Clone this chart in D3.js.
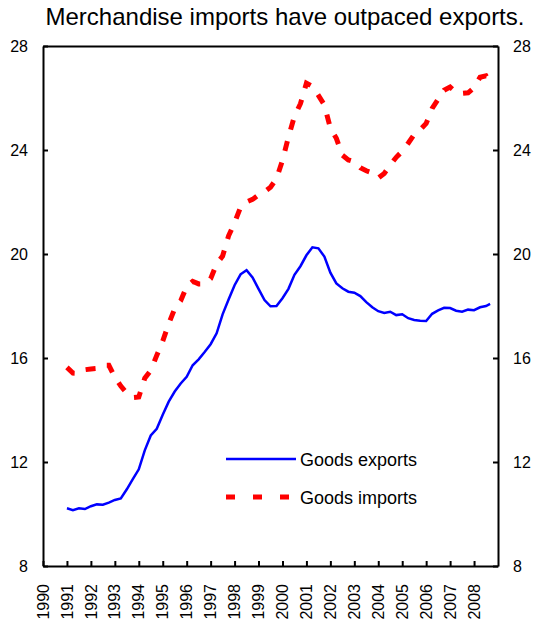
<!DOCTYPE html>
<html><head><meta charset="utf-8">
<script src="https://cdn.jsdelivr.net/npm/d3@7"></script>
<style>body{margin:0;background:#fff}svg{display:block}text{font-family:"Liberation Sans",Arial,sans-serif;fill:#000}</style>
</head><body><svg id="c" width="536" height="626"></svg>
<script>
const quarters = [
 1991.00,1991.25,1991.50,1991.75,1992.00,1992.25,1992.50,1992.75,
 1993.00,1993.25,1993.50,1993.75,1994.00,1994.25,1994.50,1994.75,
 1995.00,1995.25,1995.50,1995.75,1996.00,1996.25,1996.50,1996.75,
 1997.00,1997.25,1997.50,1997.75,1998.00,1998.25,1998.50,1998.75,
 1999.00,1999.25,1999.50,1999.75,2000.00,2000.25,2000.50,2000.75,
 2001.00,2001.25,2001.50,2001.75,2002.00,2002.25,2002.50,2002.75,
 2003.00,2003.25,2003.50,2003.75,2004.00,2004.25,2004.50,2004.75,
 2005.00,2005.25,2005.50,2005.75,2006.00,2006.25,2006.50,2006.75,
 2007.00,2007.25,2007.50,2007.75,2008.00,2008.25,2008.50,2008.67];
const goodsExports = [
 10.22,10.15,10.22,10.19,10.30,10.37,10.36,10.44,
 10.54,10.60,10.95,11.34,11.72,12.45,13.02,13.28,
 13.82,14.32,14.71,15.02,15.28,15.72,15.95,16.23,
 16.53,16.95,17.68,18.25,18.80,19.22,19.38,19.10,
 18.66,18.23,17.99,18.00,18.30,18.66,19.20,19.53,
 19.95,20.26,20.22,19.90,19.28,18.87,18.68,18.55,
 18.51,18.38,18.15,17.95,17.80,17.73,17.78,17.65,
 17.68,17.53,17.46,17.43,17.42,17.70,17.83,17.93,
 17.92,17.82,17.78,17.86,17.84,17.95,18.00,18.08];
const goodsImports = [
 15.64,15.42,15.41,15.55,15.58,15.60,15.72,15.72,
 15.26,14.92,14.65,14.48,14.50,15.22,15.52,16.10,
 16.65,17.32,17.90,18.20,18.75,18.95,18.85,18.85,
 19.05,19.62,19.92,20.70,21.20,21.80,22.00,22.10,
 22.27,22.40,22.57,22.90,23.60,24.50,25.30,25.78,
 26.57,26.45,26.10,25.73,24.84,24.45,23.80,23.62,
 23.55,23.32,23.20,23.12,22.92,23.10,23.42,23.72,
 23.95,24.26,24.60,24.78,25.02,25.60,25.95,26.30,
 26.42,26.22,26.18,26.20,26.40,26.80,26.85,26.63];
const yearTicks = [1990,1991,1992,1993,1994,1995,1996,1997,1998,1999,2000,2001,2002,2003,2004,2005,2006,2007,2008];
const valueTicks = [8,12,16,20,24,28];
const seriesNames = ["Goods exports","Goods imports"];
const titleText = "Merchandise imports have outpaced exports.";

const svg = d3.select("#c");
const L=43, R=498, T=46, B=566;
const x = d3.scaleLinear().domain([1990,2009]).range([L,R]);
const y = d3.scaleLinear().domain([8,28]).range([B,T]);

svg.append("text").attr("x",285).attr("y",25).attr("text-anchor","middle")
  .style("font-size","24px").text(titleText);

// lines
const line = d3.line().x(d=>x(d[0])).y(d=>y(d[1]));
svg.append("path").datum(quarters.map((q,i)=>[q,goodsExports[i]]))
  .attr("d",line).attr("fill","none").attr("stroke","#0000ff").attr("stroke-width",2.5);
svg.append("path").datum(quarters.map((q,i)=>[q,goodsImports[i]]))
  .attr("d",line).attr("fill","none").attr("stroke","#ff0000").attr("stroke-width",5)
  .attr("stroke-dasharray","10,12");

// axes
const gL = svg.append("g").attr("transform",`translate(${L},0)`)
  .call(d3.axisRight(y).tickValues(valueTicks).tickSize(5).tickSizeOuter(0).tickFormat(""));
const gR = svg.append("g").attr("transform",`translate(${R},0)`)
  .call(d3.axisLeft(y).tickValues(valueTicks).tickSize(5).tickSizeOuter(0).tickFormat(""));
const gB = svg.append("g").attr("transform",`translate(0,${B})`)
  .call(d3.axisTop(x).tickValues(yearTicks).tickSize(5).tickSizeOuter(0).tickFormat(""));
const gT = svg.append("g").attr("transform",`translate(0,${T})`)
  .call(d3.axisBottom(x).tickValues([]).tickSizeOuter(0));
[gL,gR,gB,gT].forEach(g=>{
  g.selectAll("path.domain").attr("stroke","#000").attr("stroke-width",2);
  g.selectAll(".tick line").attr("stroke","#000").attr("stroke-width",2);
});

// tick labels
svg.append("g").selectAll("text").data(valueTicks).join("text")
  .attr("x",L-15).attr("y",d=>y(d)).attr("dy","0.35em").attr("text-anchor","end")
  .style("font-size","16px").text(d=>d);
svg.append("g").selectAll("text").data(valueTicks).join("text")
  .attr("x",R+15).attr("y",d=>y(d)).attr("dy","0.35em").attr("text-anchor","start")
  .style("font-size","16px").text(d=>d);
svg.append("g").selectAll("text").data(yearTicks).join("text")
  .attr("transform",d=>`translate(${x(d)},${B+18}) rotate(-90)`)
  .attr("dy","0.35em").attr("text-anchor","end")
  .style("font-size","16px").text(d=>d);

// legend
const lg = svg.append("g");
lg.append("line").attr("x1",226).attr("x2",296).attr("y1",459).attr("y2",459)
  .attr("stroke","#0000ff").attr("stroke-width",2.5);
lg.append("line").attr("x1",226).attr("x2",296).attr("y1",497).attr("y2",497)
  .attr("stroke","#ff0000").attr("stroke-width",5).attr("stroke-dasharray","9,18");
lg.append("text").attr("x",300).attr("y",460).attr("dy","0.35em").style("font-size","18px").text(seriesNames[0]);
lg.append("text").attr("x",300).attr("y",498).attr("dy","0.35em").style("font-size","18px").text(seriesNames[1]);
</script></body></html>
